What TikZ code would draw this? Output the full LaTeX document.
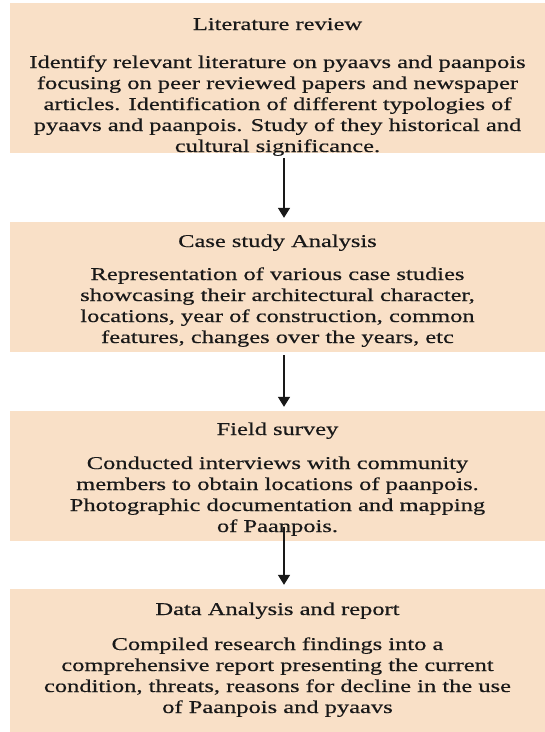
\documentclass[tikz,border=0pt]{standalone}
\usepackage{fontspec}
\setmainfont[FakeStretch=1.36,FakeBold=0.4]{Liberation Serif}
\usetikzlibrary{arrows.meta}
\definecolor{peach}{RGB}{249,224,199}

\begin{document}
\begin{tikzpicture}[x=1pt,y=-1pt]
	\tikzstyle{stage}=[fill=peach,draw=none,minimum width=535pt,inner sep=0pt]
	\tikzstyle{stagetext}=[align=center,anchor=north,inner sep=0pt,text=black!90,font=\fontsize{18}{21}\selectfont]
	\tikzstyle{flow}=[-{Triangle[width=12pt,length=10pt]},line width=1.6pt,draw=black!90]

	\useasboundingbox (0,0) rectangle (545,732);

	% the four stages
	\node (lit) [stage, minimum height=150pt] at (277.5,78) {};
	\node (litT) [stagetext] at ([yshift=-12.3pt]lit.north) {\strut Literature review\\[17pt]
		Identify relevant literature on pyaavs and paanpois\\
		focusing on peer reviewed papers and newspaper\\
		articles. Identification of different typologies of\\
		pyaavs and paanpois. Study of they historical and\\
		cultural significance.};

	\node (case) [stage, minimum height=130pt] at (277.5,287) {};
	\node (caseT) [stagetext] at ([yshift=-10.3pt]case.north) {\strut Case study Analysis\\[12pt]
		Representation of various case studies\\
		showcasing their architectural character,\\
		locations, year of construction, common\\
		features, changes over the years, etc};

	\node (field) [stage, minimum height=130pt] at (277.5,476) {};
	\node (fieldT) [stagetext] at ([yshift=-9.3pt]field.north) {\strut Field survey\\[13pt]
		Conducted interviews with community\\
		members to obtain locations of paanpois.\\
		Photographic documentation and mapping\\
		of Paanpois.};

	\node (data) [stage, minimum height=146pt] at (277.5,662) {};
	\node (dataT) [stagetext] at ([yshift=-11.3pt]data.north) {\strut Data Analysis and report\\[14pt]
		Compiled research findings into a\\
		comprehensive report presenting the current\\
		condition, threats, reasons for decline in the use\\
		of Paanpois and pyaavs};

	% arrows
	\draw [flow, shorten <=5pt, shorten >=4pt] ([xshift=6.5pt]lit.south) -- ([xshift=6.5pt]case.north);
	\draw [flow, shorten <=3pt, shorten >=4pt] ([xshift=6.5pt]case.south) -- ([xshift=6.5pt]field.north);
	\draw [flow, shorten <=-14pt, shorten >=4pt] ([xshift=6.5pt]field.south) -- ([xshift=6.5pt]data.north);
\end{tikzpicture}
\end{document}
